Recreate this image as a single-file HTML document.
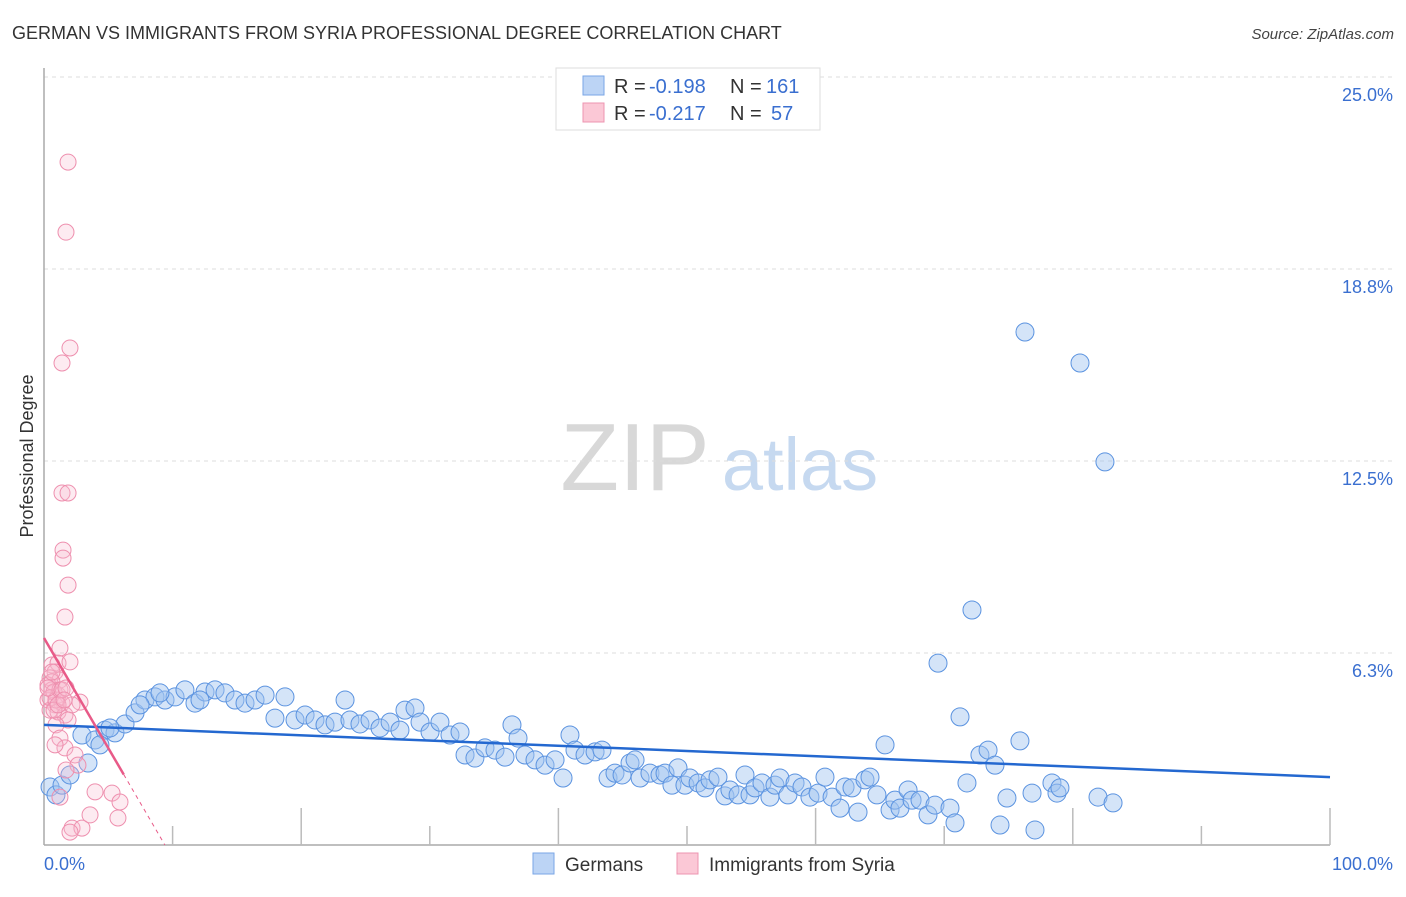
<!DOCTYPE html>
<html><head><meta charset="utf-8"><style>
body{margin:0;background:#fff;font-family:"Liberation Sans",sans-serif;}
svg text{font-family:"Liberation Sans",sans-serif;}
</style></head><body>
<svg id="chart" width="1406" height="892" xmlns="http://www.w3.org/2000/svg">
<text x="12" y="39" font-size="18" fill="#333">GERMAN VS IMMIGRANTS FROM SYRIA PROFESSIONAL DEGREE CORRELATION CHART</text>
<text x="1394" y="39" font-size="15" fill="#444" text-anchor="end" font-style="italic">Source: ZipAtlas.com</text>
<text transform="translate(33,456) rotate(-90)" font-size="18" fill="#333" text-anchor="middle">Professional Degree</text>
<g>
<text x="635" y="490" font-size="96" fill="#d8d8d8" text-anchor="middle" font-family="Liberation Serif,serif">ZIP</text>
<text x="800" y="490" font-size="74" fill="#c6d9f0" text-anchor="middle">atlas</text>
</g>
<g id="grid"></g><g id="axes"></g><g id="marks"></g><g id="trends"></g>
<g>
<rect x="556" y="68" width="264" height="62" fill="#fff" stroke="#ddd"/>
<rect x="583" y="76" width="21" height="19" fill="#bcd4f5" stroke="#7aa6e6"/>
<rect x="583" y="103" width="21" height="19" fill="#fbc8d6" stroke="#ee94b0"/>
<text x="614" y="93" font-size="20" fill="#333">R =</text>
<text x="649" y="93" font-size="20" fill="#3a6fd0">-0.198</text>
<text x="730" y="93" font-size="20" fill="#333">N =</text>
<text x="766" y="93" font-size="20" fill="#3a6fd0">161</text>
<text x="614" y="120" font-size="20" fill="#333">R =</text>
<text x="649" y="120" font-size="20" fill="#3a6fd0">-0.217</text>
<text x="730" y="120" font-size="20" fill="#333">N =</text>
<text x="771" y="120" font-size="20" fill="#3a6fd0">57</text>
</g>
<g>
<rect x="533" y="853" width="21" height="21" fill="#bcd4f5" stroke="#7aa6e6"/>
<text x="565" y="871" font-size="19" fill="#333">Germans</text>
<rect x="677" y="853" width="21" height="21" fill="#fbc8d6" stroke="#ee94b0"/>
<text x="709" y="871" font-size="19" fill="#333">Immigrants from Syria</text>
</g>
</svg>
<script>
const yTicks=[6.25,12.5,18.75,25];
const yTickLabels=["6.3%","12.5%","18.8%","25.0%"];
const xTickVals=[0,10,20,30,40,50,60,70,80,90,100];
const germansPx=[[50,787],[56,795],[62,785],[70,775],[88,763],[82,735],[95,740],[105,730],[115,733],[125,724],[135,713],[145,700],[155,697],[165,700],[175,697],[185,690],[195,703],[205,692],[215,690],[225,693],[235,700],[245,703],[255,700],[265,695],[275,718],[285,697],[295,720],[305,715],[315,720],[325,725],[335,722],[345,700],[350,720],[360,724],[370,720],[380,728],[390,722],[400,730],[405,710],[415,708],[420,722],[430,732],[440,722],[450,735],[460,732],[465,755],[475,758],[485,748],[495,750],[505,757],[512,725],[518,738],[525,755],[535,760],[545,765],[555,760],[563,778],[570,735],[575,750],[585,755],[595,752],[602,750],[608,778],[615,773],[622,775],[630,763],[635,760],[640,778],[650,773],[660,775],[665,773],[672,785],[678,768],[685,785],[690,778],[698,783],[705,788],[710,780],[718,777],[725,796],[730,790],[738,795],[745,775],[750,795],[755,788],[762,783],[770,797],[775,785],[780,778],[788,795],[795,783],[802,787],[810,797],[818,793],[825,777],[832,797],[840,808],[845,787],[852,788],[858,812],[865,780],[870,777],[877,795],[885,745],[890,810],[895,800],[900,808],[908,790],[912,800],[920,800],[928,815],[935,805],[938,663],[950,808],[955,823],[960,717],[967,783],[972,610],[980,755],[988,750],[995,765],[1000,825],[1007,798],[1020,741],[1025,332],[1032,793],[1035,830],[1052,783],[1057,793],[1060,788],[1080,363],[1098,797],[1105,462],[1113,803],[100,745],[110,728],[140,705],[160,693],[200,700]];
const syriaPx=[[68,162],[66,232],[70,348],[62,363],[62,493],[68,493],[63,550],[63,558],[68,585],[65,617],[60,648],[52,665],[58,663],[70,662],[55,672],[50,678],[60,680],[48,685],[52,690],[58,695],[48,700],[55,705],[62,703],[50,710],[58,712],[65,715],[80,702],[72,705],[68,720],[56,725],[60,738],[65,748],[75,755],[55,745],[78,765],[66,770],[95,792],[112,793],[120,802],[60,797],[72,828],[82,828],[90,815],[118,818],[52,682],[54,692],[50,698],[56,700],[60,690],[52,672],[48,688],[62,690],[54,710],[66,688],[58,705],[70,832],[64,700]];
const germansX=germansPx.map(p=>+((p[0]-44)/12.86).toFixed(2));
const germansY=germansPx.map(p=>+((845-p[1])/30.72).toFixed(2));
const syriaX=syriaPx.map(p=>+((p[0]-44)/12.86).toFixed(2));
const syriaY=syriaPx.map(p=>+((845-p[1])/30.72).toFixed(2));
const germansTrend=[3.91,2.21];
const syriaTrend=[6.74,-0.717];
const X0=44,X1=1330,Y0=845,Y1=77;
const sx=v=>X0+(X1-X0)*v/100;
const sy=v=>Y0-(Y0-Y1)*v/25;
const NS="http://www.w3.org/2000/svg";
function mk(tag,attrs,parent){const e=document.createElementNS(NS,tag);for(const k in attrs)e.setAttribute(k,attrs[k]);document.getElementById(parent).appendChild(e);return e;}
yTicks.forEach((t,i)=>{
 const l=mk('line',{x1:X0,x2:1394,y1:sy(t),y2:sy(t),stroke:'#ddd','stroke-dasharray':'4,4'},'grid');
 
 
 const tx=mk('text',{x:1393,y:sy(t)+24,'font-size':18,fill:'#3a6fd0','text-anchor':'end'},'grid');
 tx.textContent=yTickLabels[i];
 
 
});
const ax=mk('line',{x1:X0,x2:X1,y1:Y0,y2:Y0,stroke:'#aaa','stroke-width':1.5},'axes');


const ay=mk('line',{x1:X0,x2:X0,y1:68,y2:Y0,stroke:'#aaa','stroke-width':1.5},'axes');


xTickVals.forEach((v,i)=>{
 if(i===0)return;
 const t=mk('line',{x1:sx(v),x2:sx(v),y1:(i%2===0?808:826),y2:Y0,stroke:'#bbb','stroke-width':1.5},'axes');
 
 
});
const xl0=mk('text',{x:44,y:870,'font-size':18,fill:'#3a6fd0'},'axes');xl0.textContent='0.0%';


const xl1=mk('text',{x:1393,y:870,'font-size':18,fill:'#3a6fd0','text-anchor':'end'},'axes');xl1.textContent='100.0%';


germansX.forEach((x,i)=>{
 const c=mk('circle',{cx:sx(x),cy:sy(germansY[i]),r:9,fill:'rgba(160,196,240,0.45)',stroke:'#5b93e0','stroke-width':1},'marks');
 
 
});
syriaX.forEach((x,i)=>{
 const c=mk('circle',{cx:sx(x),cy:sy(syriaY[i]),r:8,fill:'rgba(250,190,210,0.3)',stroke:'#ee8fae','stroke-width':1},'marks');
 
 
});
const bt=mk('line',{x1:sx(0),y1:sy(germansTrend[0]),x2:sx(100),y2:sy(germansTrend[1]),stroke:'#2468d0','stroke-width':2.5},'trends');


const xs=6.2, xe=-syriaTrend[0]/syriaTrend[1];
const pt=mk('line',{x1:sx(0),y1:sy(syriaTrend[0]),x2:sx(xs),y2:sy(syriaTrend[0]+syriaTrend[1]*xs),stroke:'#e85a88','stroke-width':2.5},'trends');


const pd=mk('line',{x1:sx(xs),y1:sy(syriaTrend[0]+syriaTrend[1]*xs),x2:sx(xe),y2:sy(0),stroke:'#e85a88','stroke-width':1,'stroke-dasharray':'4,4'},'trends');


</script>
</body></html>
